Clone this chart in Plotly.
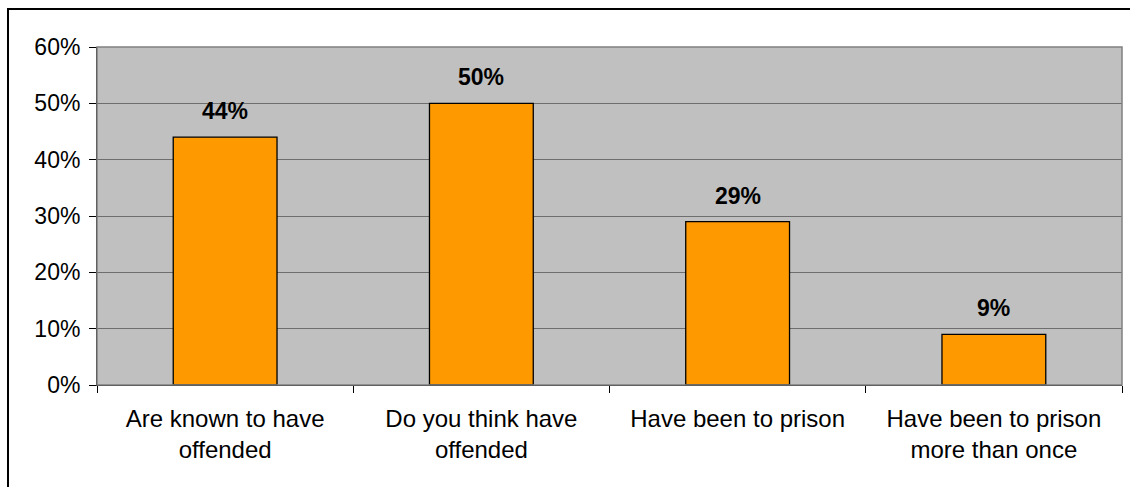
import plotly.graph_objects as go

categories = ["Are known to have<br>offended", "Do you think have<br>offended",
              "Have been to prison", "Have been to prison<br>more than once"]
values = [44, 50, 29, 9]
value_labels = ["44%", "50%", "29%", "9%"]
y_ticks = [0, 10, 20, 30, 40, 50, 60]
y_tick_labels = ["0%", "10%", "20%", "30%", "40%", "50%", "60%"]

W, H = 1130, 487
L, R, T, B = 97, 8, 47, 102
pw, ph = W - L - R, H - T - B

FONT = "Liberation Sans, Arial, sans-serif"

fig = go.Figure()
fig.add_trace(go.Bar(
    x=categories, y=values, width=0.405,
    marker=dict(color="#FF9900", line=dict(color="#000000", width=1.3)),
    hoverinfo="skip",
))

for c, v, t in zip(categories, values, value_labels):
    fig.add_annotation(x=c, y=v, text="<b>" + t + "</b>", showarrow=False,
                       xref="x", yref="y", yanchor="middle", yshift=26,
                       font=dict(family=FONT, size=23, color="#000000"))

# plot area border (gray)
fig.add_shape(type="rect", xref="paper", yref="paper", x0=0, x1=1, y0=0, y1=1,
              line=dict(color="#808080", width=1.5), fillcolor="rgba(0,0,0,0)", layer="above")
# outer chart border
fig.add_shape(type="rect", xref="paper", yref="paper",
              x0=(8 - L) / pw, x1=1.2, y0=-1, y1=(H - B - 9) / ph,
              line=dict(color="#000000", width=2), fillcolor="rgba(0,0,0,0)")

fig.update_layout(
    width=W, height=H,
    margin=dict(l=L, r=R, t=T, b=B, pad=0),
    paper_bgcolor="#FFFFFF", plot_bgcolor="#C0C0C0",
    showlegend=False, bargap=0.595,
    font=dict(family=FONT, size=23, color="#000000"),
)
fig.update_xaxes(
    type="category", tickson="boundaries", ticks="outside", ticklen=7,
    tickcolor="#000000", showgrid=False, showline=True, linecolor="#000000",
    linewidth=1, tickfont=dict(family=FONT, size=24, color="#000000"),
    ticklabelstandoff=12, fixedrange=True,
)
fig.update_yaxes(
    range=[0, 60], tickvals=y_ticks, ticktext=y_tick_labels,
    ticks="outside", ticklen=7, tickcolor="#000000",
    showgrid=True, gridcolor="#6E6E6E", gridwidth=1.3,
    showline=True, linecolor="#000000", linewidth=1, zeroline=False,
    tickfont=dict(family=FONT, size=23, color="#000000"),
    ticklabelstandoff=4, fixedrange=True,
)

fig.write_html("out.html", config={"displayModeBar": False})
